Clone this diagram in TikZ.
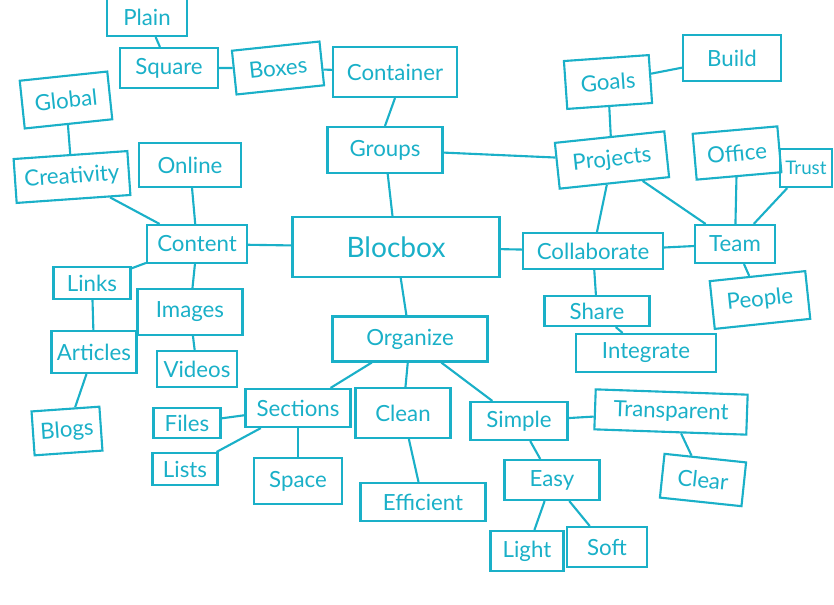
\documentclass[tikz,border=0pt]{standalone}
\usepackage{fontspec}
\setmainfont{Lato}
\definecolor{ink}{HTML}{1AB0C8}
\begin{document}
\begin{tikzpicture}[x=0.03cm,y=-0.03cm,
  box/.style={draw=ink, line width=1.8pt, text=ink, inner sep=0pt, font=\fontsize{19pt}{22pt}\selectfont},
  bw/.style={minimum width=#1*0.03cm},
  bh/.style={minimum height=#1*0.03cm},
  link/.style={draw=ink, line width=1.8pt}]
\useasboundingbox[fill=white] (0,0) rectangle (834,604);
% nodes
\node[box,bw=80,bh=38] (plain) at (147,17) {Plain};
\node[box,bw=98,bh=40] (square) at (169,68) {Square};
\node[box,bw=88,bh=44,rotate=6] (boxes) at (278,68) {Boxes};
\node[box,bw=124,bh=50] (container) at (395,72) {Container};
\node[box,bw=88,bh=48,rotate=6] (global) at (66,100) {Global};
\node[box,bw=114,bh=44,rotate=4] (creativity) at (72,177) {Creativity};
\node[box,bw=102,bh=44] (online) at (190,165) {Online};
\node[box,bw=115,bh=46] (groups) at (385,150) {Groups};
\node[box,bw=100,bh=38] (content) at (197,244) {Content};
\node[box,bw=207,bh=60,font=\fontsize{24pt}{28pt}\selectfont] (blocbox) at (396,247) {Blocbox};
\node[box,bw=85,bh=48,rotate=4] (goals) at (608,82) {Goals};
\node[box,bw=98,bh=46] (build) at (732,58) {Build};
\node[box,bw=110,bh=46,rotate=6] (projects) at (612,160) {Projects};
\node[box,bw=85,bh=46,rotate=5] (office) at (737,153) {Office};
\node[box,bw=52,bh=38,font=\fontsize{16pt}{19pt}\selectfont] (trust) at (806,168) {Trust};
\node[box,bw=140,bh=36] (collaborate) at (593,251) {Collaborate};
\node[box,bw=80,bh=38] (team) at (735,244) {Team};
\node[box,bw=105,bh=30] (share) at (597,311) {Share};
\node[box,bw=96,bh=48,rotate=6] (people) at (760,300) {People};
\node[box,bw=140,bh=38] (integrate) at (646,353) {Integrate};
\node[box,bw=155,bh=45] (organize) at (410,339) {Organize};
\node[box,bw=77,bh=32] (links) at (92,283) {Links};
\node[box,bw=105,bh=46] (images) at (190,312) {Images};
\node[box,bw=85,bh=42] (articles) at (94,352) {Articles};
\node[box,bw=80,bh=36] (videos) at (197,369) {Videos};
\node[box,bw=105,bh=38] (sections) at (298,408) {Sections};
\node[box,bw=95,bh=50] (clean) at (403,413) {Clean};
\node[box,bw=68,bh=44,rotate=4] (blogs) at (67,431) {Blogs};
\node[box,bw=67,bh=30] (files) at (187,423) {Files};
\node[box,bw=65,bh=32] (lists) at (185,469) {Lists};
\node[box,bw=88,bh=46] (space) at (298,481) {Space};
\node[box,bw=125,bh=38] (efficient) at (423,502) {Efficient};
\node[box,bw=97,bh=38] (simple) at (519,421) {Simple};
\node[box,bw=152,bh=40,rotate=-2] (transparent) at (671,412) {Transparent};
\node[box,bw=82,bh=44,rotate=-6] (clear) at (703,480) {Clear};
\node[box,bw=95,bh=40] (easy) at (552,480) {Easy};
\node[box,bw=73,bh=40] (light) at (527,551) {Light};
\node[box,bw=80,bh=40] (soft) at (607,547) {Soft};
% connectors
\draw[link] (plain) -- (square);
\draw[link] (square) -- (boxes);
\draw[link] (boxes) -- (container);
\draw[link] (container.south) -- (groups.north);
\draw[link] (groups) -- (blocbox);
\draw[link] (groups) -- (projects);
\draw[link] (goals) -- (build);
\draw[link] (goals) -- (projects);
\draw[link] (projects) -- (collaborate);
\draw[link] (projects) -- (team);
\draw[link] (office) -- (team);
\draw[link] (trust) -- (team);
\draw[link] (team) -- (people);
\draw[link] (collaborate) -- (team);
\draw[link] (blocbox) -- (collaborate);
\draw[link] (collaborate) -- (share);
\draw[link] (share) -- (integrate);
\draw[link] (blocbox) -- (content);
\draw[link] (content) -- (online);
\draw[link] (content) -- (creativity);
\draw[link] (creativity) -- (global);
\draw[link] (content) -- (links);
\draw[link] (content) -- (images);
\draw[link] (links) -- (articles);
\draw[link] (articles) -- (blogs);
\draw[link] (images) -- (videos);
\draw[link] (blocbox) -- (organize);
\draw[link] (organize) -- (sections);
\draw[link] (organize) -- (clean);
\draw[link] (organize) -- (simple);
\draw[link] (sections) -- (files);
\draw[link] (sections) -- (lists);
\draw[link] (sections) -- (space);
\draw[link] (clean) -- (efficient);
\draw[link] (simple) -- (transparent);
\draw[link] (transparent) -- (clear);
\draw[link] (simple) -- (easy);
\draw[link] (easy) -- (light);
\draw[link] (easy) -- (soft);
\end{tikzpicture}
\end{document}
